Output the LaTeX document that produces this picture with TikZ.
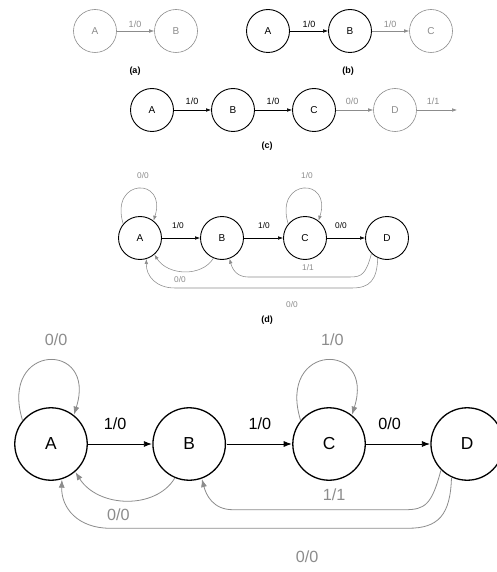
\documentclass[tikz,border=0pt]{standalone}
\usepackage{fontspec}
\setmainfont{Liberation Sans}
\usetikzlibrary{arrows.meta}
\definecolor{gry}{gray}{0.55}
\tikzset{
 st/.style={circle, draw=black, line width=0.9pt, minimum size=43pt, inner sep=0pt, font=\fontsize{10}{12}\selectfont},
 stg/.style={st, draw=gry, text=gry, line width=0.6pt},
 lbl/.style={inner sep=0pt, font=\fontsize{8.3}{10}\selectfont},
 lblg/.style={lbl, text=gry},
 tlbl/.style={inner sep=0pt, font=\fontsize{9}{10}\selectfont},
 tlblg/.style={tlbl, text=gry},
 edg/.style={line width=0.55pt, ->},
 edgg/.style={edg, color=gry},
 capt/.style={inner sep=0pt, font=\fontsize{9}{10}\selectfont\bfseries},
}
\newcommand\fsmd[1]{%
\node[st] (#1A) at (0,0) {A};
\node[st] (#1B) at (82,0) {B};
\node[st] (#1C) at (165,0) {C};
\node[st] (#1D) at (247,0) {D};
\draw[edg] (#1A) -- (#1B);
\draw[edg] (#1B) -- (#1C);
\draw[edg] (#1C) -- (#1D);
\node[lbl] (#1l1) at (38,-12) {1/0};
\node[lbl] (#1l2) at (124,-12) {1/0};
\node[lbl] (#1l3) at (201,-12) {0/0};
\draw[edgg] (#1A.140) .. controls +(-14,-46) and +(14,-44) .. (#1A.52);
\draw[edgg] (#1C.140) .. controls +(-14,-46) and +(14,-44) .. (#1C.52);
\node[lblg] (#1l4) at (3,-62) {0/0};
\node[lblg] (#1l5) at (167,-62) {1/0};
\draw[edgg] (#1B.-113) .. controls (62,39) and (28,38) .. (#1A.-49);
\draw[edgg] (#1D.-135) .. controls (226,36) and (222,39) .. (210,39) -- (108,39) .. controls (96,39) and (92,30) .. (#1B.-70);
\draw[edgg] (#1D.-115) .. controls (237,42) and (230,50) .. (212,50) -- (35,50) .. controls (16,50) and (6,38) .. (#1A.-73);
\node[lblg] (#1l6) at (168,30) {1/1};
\node[lblg] (#1l7) at (40,42) {0/0};
\node[lblg] (#1l8) at (152,67) {0/0};
}
\begin{document}
\begin{tikzpicture}[x=1pt, y=-1pt, >={Latex[length=5pt,width=3.6pt]}]
\useasboundingbox (0,0) rectangle (497,572);
\clip (0,0) rectangle (497,572);
\fill[white] (0,0) rectangle (497,572);
% (a)
\node[stg] (a1) at (95,31) {A};
\node[stg] (a2) at (176,31) {B};
\draw[edgg] (a1) -- (a2);
\node[tlblg] (al1) at (135,24) {1/0};
\node[capt] (acap) at (135,71) {(a)};
% (b)
\node[st] (b1) at (268,31) {A};
\node[st] (b2) at (350,31) {B};
\node[stg] (b3) at (431,31) {C};
\draw[edg] (b1) -- (b2);
\draw[edgg] (b2) -- (b3);
\node[tlbl] (bl1) at (309,24) {1/0};
\node[tlblg] (bl2) at (390,24) {1/0};
\node[capt] (bcap) at (348,71) {(b)};
% (c)
\node[st] (c1) at (152,110) {A};
\node[st] (c2) at (233,110) {B};
\node[st] (c3) at (314,110) {C};
\node[stg] (c4) at (395,110) {D};
\coordinate (c5) at (457,110);
\draw[edg] (c1) -- (c2);
\draw[edg] (c2) -- (c3);
\draw[edgg] (c3) -- (c4);
\draw[edgg] (c4) -- (c5);
\node[tlbl] (cl1) at (192,101) {1/0};
\node[tlbl] (cl2) at (273,101) {1/0};
\node[tlblg] (cl3) at (352,101) {0/0};
\node[tlblg] (cl4) at (433,101) {1/1};
\node[capt] (ccap) at (267,146) {(c)};
% (d)
\begin{scope}[shift={(140,238)}]
\fsmd{d}
\end{scope}
\node[capt] (dcap) at (267,320) {(d)};
% enlarged
\begin{scope}[shift={(51,444)}, scale=1.685, transform shape,
  st/.append style={line width=1.3pt, font=\fontsize{10.3}{12}\selectfont},
  lbl/.append style={font=\fontsize{9.6}{11}\selectfont},
  edg/.append style={line width=0.8pt},
  >={Latex[length=8pt,width=6pt]}]
\fsmd{e}
\end{scope}
\end{tikzpicture}
\end{document}
